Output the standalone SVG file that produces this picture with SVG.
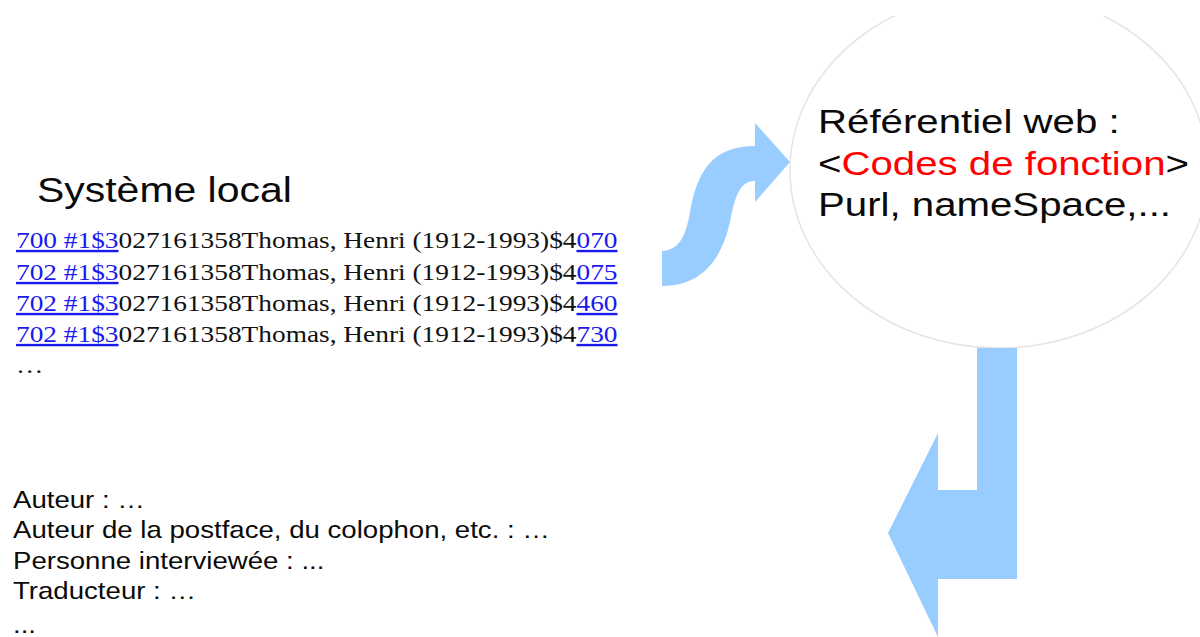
<svg xmlns="http://www.w3.org/2000/svg" width="1200" height="637" viewBox="0 0 1200 637">
<style>
.sans{font-family:"Liberation Sans",Arial,sans-serif;fill:#0a0a0a}
.serif{font-family:"Liberation Serif","Times New Roman",serif;fill:#111;font-size:24px}
.link{fill:#1a1aee;text-decoration:underline}
.red{fill:#ff0000}
.arrow{fill:#99ccff}
</style>
<defs>
<clipPath id="topcut"><rect x="0" y="16" width="1200" height="621"/></clipPath>
</defs>
<rect width="1200" height="637" fill="#fff"/>

<g id="referentiel">
<ellipse cx="999" cy="170" rx="209" ry="178" fill="#fff" stroke="#e4e4e4" stroke-width="1.5" clip-path="url(#topcut)"/>
<text class="sans" font-size="33.5" transform="translate(818,133) scale(1.2,1)">Référentiel web :</text>
<text class="sans" font-size="33.5" transform="translate(818,175) scale(1.2,1)">&lt;<tspan class="red">Codes de fonction</tspan>&gt;</text>
<text class="sans" font-size="33.5" transform="translate(818,216) scale(1.2,1)">Purl, nameSpace,...</text>
</g>

<g id="systeme-local">
<text class="sans" font-size="35" transform="translate(37,202) scale(1.17,1)">Système local</text>
<text class="serif" transform="translate(16,248) scale(1.14,1)"><tspan class="link">700 #1$3</tspan>027161358Thomas, Henri (1912-1993)$4<tspan class="link">070</tspan></text>
<text class="serif" transform="translate(16,280) scale(1.14,1)"><tspan class="link">702 #1$3</tspan>027161358Thomas, Henri (1912-1993)$4<tspan class="link">075</tspan></text>
<text class="serif" transform="translate(16,311) scale(1.14,1)"><tspan class="link">702 #1$3</tspan>027161358Thomas, Henri (1912-1993)$4<tspan class="link">460</tspan></text>
<text class="serif" transform="translate(16,342) scale(1.14,1)"><tspan class="link">702 #1$3</tspan>027161358Thomas, Henri (1912-1993)$4<tspan class="link">730</tspan></text>
<text class="serif" transform="translate(16,373) scale(1.14,1)">…</text>
</g>

<g id="fonctions">
<text class="sans" font-size="24" transform="translate(13,508) scale(1.15,1)">Auteur : …</text>
<text class="sans" font-size="24" transform="translate(13,538) scale(1.15,1)">Auteur de la postface, du colophon, etc. : …</text>
<text class="sans" font-size="24" transform="translate(13,569) scale(1.15,1)">Personne interviewée : ...</text>
<text class="sans" font-size="24" transform="translate(13,599) scale(1.15,1)">Traducteur : …</text>
<text class="sans" font-size="24" transform="translate(13,633) scale(1.15,1)">...</text>
</g>

<g id="connectors">
<path class="arrow" d="M662,251 C680,250 686,235 690,212 C697,172 712,146 755,146 L755,123 L790,162 L755,202 L755,181 C740,181 735,196 730,222 C721,262 700,286 662,286 Z"/>
<polygon class="arrow" points="977,348 1017,348 1017,579 938,579 938,637 888,533 938,433 938,490 977,490"/>
</g>
</svg>
